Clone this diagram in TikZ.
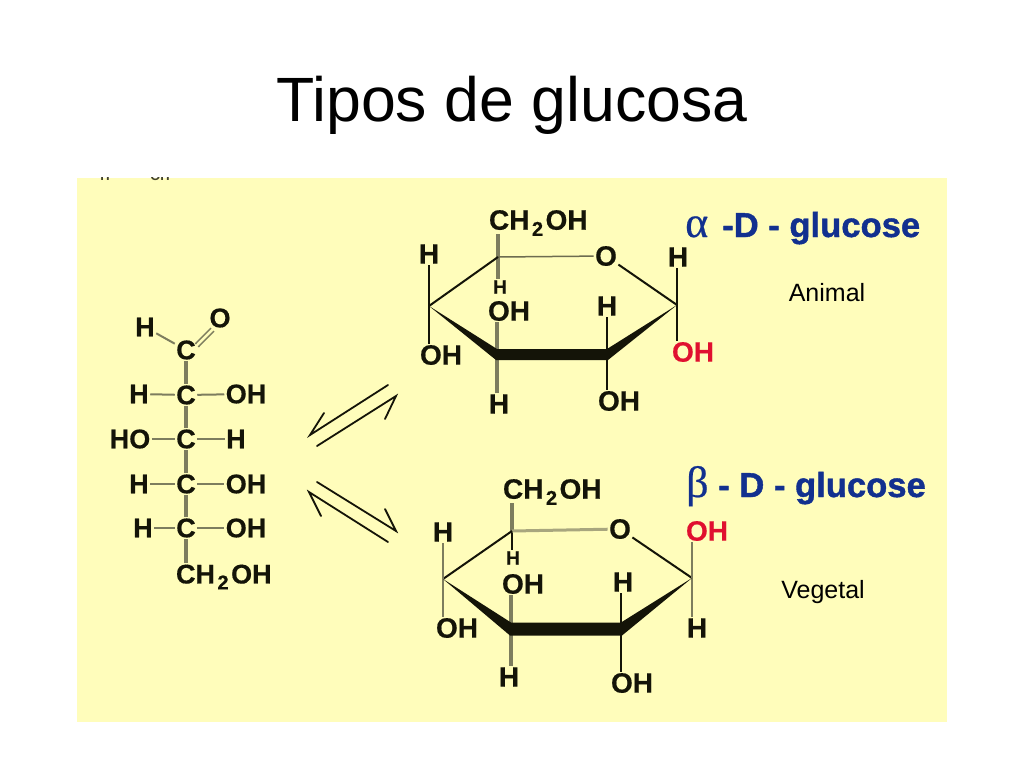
\documentclass[tikz,border=0pt]{standalone}
\usepackage{fontspec}
\setmainfont{Liberation Sans}
\newfontfamily\greekface[FakeBold=0.5]{Liberation Serif}
\newfontfamily\heavyface[FakeBold=1.2]{Liberation Sans Bold}
\newfontfamily\atomface[FakeBold=0.5]{Liberation Sans Bold}
\usetikzlibrary{calc}
\definecolor{panel}{HTML}{FFFDBB}
\definecolor{ink}{HTML}{141408}
\definecolor{stem}{HTML}{7D7D5E}
\definecolor{pale}{HTML}{A8A67E}
\definecolor{labelblue}{HTML}{12308F}
\definecolor{oxred}{HTML}{E0102F}
\newcommand{\subtwo}{\kern2.5pt\raisebox{-0.22em}{\fontsize{20}{20}\selectfont 2}\kern2.5pt}
\newcommand{\sugarform}[3]{\makebox[#1pt][l]{\kern#2pt\greekface\fontsize{44}{44}\selectfont #3}}
\tikzset{
  x=1pt,y=-1pt,
  atom/.style={font=\atomface\fontsize{28}{28}\selectfont,text=ink,inner sep=1.5pt,outer sep=0pt},
  atomsm/.style={atom,font=\atomface\fontsize{19}{19}\selectfont},
  chainatom/.style={atom,font=\atomface\fontsize{27}{27}\selectfont},
  redatom/.style={atom,text=oxred},
  bond/.style={draw=ink,line width=2pt},
  thinbond/.style={draw=stem,line width=2pt},
  graybond/.style={draw=stem,line width=3.4pt},
  halfarrow/.style={draw=ink,line width=1.8pt,line cap=round,line join=miter},
  note/.style={font=\fontsize{25}{25}\selectfont,text=black,inner sep=0pt},
  sugarname/.style={font=\heavyface\fontsize{34.6}{34.6}\selectfont,text=labelblue,inner sep=0pt,anchor=base west},
}
\begin{document}
\begin{tikzpicture}
\useasboundingbox (0,0) rectangle (1024,768);
\fill[white] (0,0) rectangle (1024,768);
\fill[panel] (77,178) rectangle (947,722);
\node[font=\fontsize{62.6}{62.6}\selectfont,text=black,inner sep=0pt,anchor=base] (title) at (512,121) {Tipos de glucosa};
\begin{scope}
\clip (90,177) rectangle (180,184);
\node[atomsm,font=\fontsize{13}{13}\selectfont\bfseries,text=ink!80!panel] (cuth) at (105,176) {H};
\node[atomsm,font=\fontsize{13}{13}\selectfont\bfseries,text=ink!80!panel] (cutoh) at (160,176) {OH};
\end{scope}

% open chain
\node[chainatom] (co) at (220,318) {O};
\node[chainatom] (ch) at (145,327) {H};
\node[chainatom] (c1) at (186,350) {C};
\node[chainatom] (c2) at (186,395) {C};
\node[chainatom] (h2) at (139,394) {H};
\node[chainatom] (oh2) at (246,394) {OH};
\node[chainatom] (c3) at (186,439) {C};
\node[chainatom] (ho3) at (130,439) {HO};
\node[chainatom] (h3) at (236,439) {H};
\node[chainatom] (c4) at (186,484) {C};
\node[chainatom] (h4) at (139,484) {H};
\node[chainatom] (oh4) at (246,484) {OH};
\node[chainatom] (c5) at (186,528) {C};
\node[chainatom] (h5) at (143,528) {H};
\node[chainatom] (oh5) at (246,528) {OH};
\node[chainatom,anchor=west,inner sep=0pt] (c6) at (176,577) {CH\subtwo OH};
\coordinate (c6top) at (186,563);
\draw[thinbond] (ch) -- (c1);
\draw[thinbond,line width=1.5pt] ($(c1.north east)+(-2,5)$) -- ($(co.south west)+(3,-1)$);
\draw[thinbond,line width=1.5pt] ($(c1.north east)+(1,8)$) -- ($(co.south west)+(6,2)$);
\foreach \a/\b in {h2/c2,c2/oh2,ho3/c3,c3/h3,h4/c4,c4/oh4,h5/c5,c5/oh5}{\draw[thinbond] (\a) -- (\b);}
\foreach \a/\b in {c1/c2,c2/c3,c3/c4,c4/c5,c5/c6top}{\draw[graybond] (\a) -- (\b);}

% equilibrium arrows
\coordinate (ua1) at (388,385); \coordinate (ua2) at (310,435); \coordinate (ub1) at (324,413);
\coordinate (ua3) at (317,446); \coordinate (ua4) at (396,396); \coordinate (ub2) at (385,419);
\coordinate (la1) at (317,482); \coordinate (la2) at (396,531); \coordinate (lb1) at (385,509);
\coordinate (la3) at (388,542); \coordinate (la4) at (309,492); \coordinate (lb2) at (321,516);
\draw[halfarrow] (ua1) -- (ua2) -- (ub1);
\draw[halfarrow] (ua3) -- (ua4) -- (ub2);
\draw[halfarrow] (la1) -- (la2) -- (lb1);
\draw[halfarrow] (la3) -- (la4) -- (lb2);

% alpha ring
\coordinate (atl) at (498,257); \coordinate (ar) at (677,305); \coordinate (abr) at (607,354.5);
\coordinate (abl) at (497,354.5); \coordinate (al) at (429,306);
\node[atom,anchor=west,inner sep=0pt] (ach) at (489,223) {CH\subtwo OH};
\node[atom] (ao) at (606,256) {O};
\node[atom] (ah1) at (429,254) {H};
\node[atom] (aoh1) at (441,355) {OH};
\node[atomsm] (ah2) at (500,287) {H};
\node[atom] (aoh2) at (509,311) {OH};
\node[atom] (ah3) at (499,404) {H};
\node[atom] (ah4) at (607,306) {H};
\node[atom] (aoh3) at (619,401) {OH};
\node[atom] (ah5) at (678,257) {H};
\node[redatom] (aoh4) at (693,352) {OH};
\coordinate (achs) at (498,234);
\draw[graybond] (achs) -- (atl) -- (ah2.north -| atl);
\draw[graybond] (aoh2.south -| abl) -- (abl) -- (ah3.north -| abl);
\draw[draw=pale!60!ink,line width=1.5pt] (atl) -- (ao);
\draw[bond] (al) -- (atl);
\draw[bond] (ao) -- (ar);
\draw[bond] (ah1.south -| al) -- (al) -- (aoh1.north -| al);
\draw[bond] (ah4.south -| abr) -- (abr) -- (aoh3.north -| abr);
\draw[bond] (ah5.south -| ar) -- (ar) -- (aoh4.north -| ar);
\fill[ink] (al) -- ($(abl)+(0,-5.5)$) -- ($(abr)+(0,-5.5)$) -- (ar) -- ($(abr)+(1,5.5)$) -- ($(abl)+(-1,5.5)$) -- cycle;
\node[sugarname] (alab) at (685,237) {\sugarform{37}{0}{α}-D - glucose};
\node[note] (animal) at (827,293) {Animal};

% beta ring
\coordinate (btl) at (512,531); \coordinate (br) at (692,578); \coordinate (bbr) at (621,629);
\coordinate (bbl) at (511,629); \coordinate (bl) at (443,579);
\node[atom,anchor=west,inner sep=0pt] (bch) at (503,492) {CH\subtwo OH};
\node[atom] (bo) at (620,529) {O};
\node[atom] (bh1) at (443,532) {H};
\node[atom] (boh1) at (457,628) {OH};
\node[atomsm] (bh2) at (513,558) {H};
\node[atom] (boh2) at (523,584) {OH};
\node[atom] (bh3) at (509,677) {H};
\node[atom] (bh4) at (623,582) {H};
\node[atom] (boh3) at (632,683) {OH};
\node[redatom] (boh4) at (707,531) {OH};
\node[atom] (bh5) at (697,628) {H};
\coordinate (bchs) at (512,503);
\draw[graybond] (bchs) -- (btl);
\draw[bond] (btl) -- (bh2.north -| btl);
\draw[graybond] (boh2.south -| bbl) -- (bbl) -- (bh3.north -| bbl);
\draw[draw=pale,line width=3pt] (btl) -- (bo);
\draw[bond] (bl) -- (btl);
\draw[bond] (bo) -- (br);
\draw[graybond,line width=2.4pt] (bh1.south -| bl) -- (bl) -- (boh1.north -| bl);
\draw[bond,line width=2.8pt] (bh4.south -| bbr) -- (bbr) -- (boh3.north -| bbr);
\draw[graybond,line width=2.4pt] (boh4.south -| br) -- (br) -- (bh5.north -| br);
\fill[ink] (bl) -- ($(bbl)+(0,-6.5)$) -- ($(bbr)+(0,-6.5)$) -- (br) -- ($(bbr)+(1,6.5)$) -- ($(bbl)+(-1,6.5)$) -- cycle;
\node[sugarname] (blab) at (685,497) {\sugarform{33}{1}{β}- D - glucose};
\node[note] (vegetal) at (823,592) {Vegetal};
\end{tikzpicture}
\end{document}
